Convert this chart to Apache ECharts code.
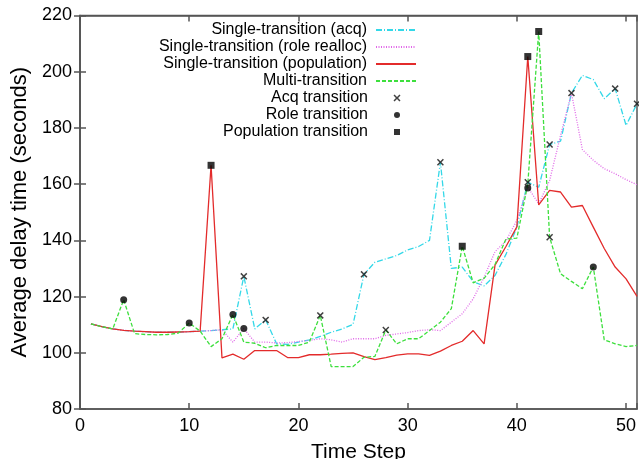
<!DOCTYPE html>
<html><head><meta charset="utf-8">
<script src="https://cdn.jsdelivr.net/npm/echarts@6/dist/echarts.min.js"></script>
<style>html,body{margin:0;padding:0;background:#fff}#c{width:639px;height:459px}</style>
</head><body><div id="c"></div>
<script>
const timeSteps = [1,2,3,4,5,6,7,8,9,10,11,12,13,14,15,16,17,18,19,20,21,22,23,24,25,26,27,28,29,30,31,32,33,34,35,36,37,38,39,40,41,42,43,44,45,46,47,48,49,50,51];

const acqValues = [110.3,109.3,108.5,108.0,107.7,107.5,107.3,107.3,107.4,107.5,107.7,
  107.9,108.2,108.5,127.2,108.5,111.7,103.2,103.0,103.8,104.6,105.8,107.3,108.5,110.1,
  127.9,132.2,133.4,134.6,136.6,137.8,140.0,167.8,130.0,130.5,125.3,123.8,127.5,135.0,144.7,
  160.7,158.9,174.1,175.3,192.4,198.7,197.2,190.4,194.0,180.9,188.6];

const roleValues = [110.3,109.3,108.5,108.0,107.7,107.5,107.3,107.3,107.4,107.5,107.7,
  107.9,108.2,103.8,108.6,103.8,103.8,103.5,103.6,104.0,104.4,105.0,104.6,103.8,105.0,
  105.0,105.0,106.2,106.7,107.2,107.9,108.2,107.9,110.9,113.9,119.2,126.9,136.0,139.8,147.1,
  158.9,153.0,161.3,177.3,192.4,172.3,168.5,165.5,163.7,161.6,159.8];

const popValues = [110.3,109.3,108.5,108.0,107.7,107.5,107.3,107.3,107.4,107.5,107.7,
  166.7,98.2,99.5,97.7,100.8,100.8,100.8,98.3,98.3,99.3,99.3,99.5,99.8,100.0,
  98.6,97.6,98.3,99.2,99.6,99.6,99.1,100.6,102.6,104.1,107.9,103.2,131.2,137.8,144.8,
  205.4,152.6,157.8,157.2,151.8,152.4,144.7,137.1,130.5,126.3,120.1];

const multiValues = [110.3,109.3,108.5,118.9,106.8,106.5,106.4,106.5,107.0,110.6,107.7,
  102.2,105.0,113.6,103.8,103.4,101.8,102.6,102.6,102.6,103.8,113.3,95.1,95.1,95.1,
  98.4,98.7,108.1,103.2,105.0,105.0,107.9,110.9,115.7,137.9,124.9,126.5,131.4,140.5,140.8,
  160.0,214.3,141.1,128.1,125.4,122.8,130.5,104.6,103.2,102.2,102.6];

const acqMarkX = [15,17,22,26,28,33,41,43,43,45,49,51];
const acqMarkY = [127.2,111.7,113.3,127.9,108.1,167.8,160.7,174.1,141.1,192.4,194.0,188.6];
const roleMarkX = [4,10,14,15,41,47];
const roleMarkY = [118.9,110.6,113.6,108.6,158.6,130.5];
const popMarkX = [12,35,41,42];
const popMarkY = [166.7,137.9,205.4,214.3];

const xTicks = [0,10,20,30,40,50];
const yTicks = [80,100,120,140,160,180,200,220];

const names = ['Single-transition (acq)','Single-transition (role realloc)','Single-transition (population)','Multi-transition','Acq transition','Role transition','Population transition'];

const pair = (xs, ys) => xs.map((x, i) => [x, ys[i]]);
const FONT = 'Liberation Sans';
const X_SYM = 'path://M0,1.5L1.5,0L5,3.5L8.5,0L10,1.5L6.5,5L10,8.5L8.5,10L5,6.5L1.5,10L0,8.5L3.5,5Z';
const SQ_SYM = 'path://M0,0L10,0L10,10L0,10Z';

const chart = echarts.init(document.getElementById('c'), null, {renderer: 'canvas'});

const rowCenters = [30, 47, 64, 81, 98, 115, 132];
const legendText = (pad) => ({fontSize: 16, lineHeight: 16, color: '#000', fontFamily: FONT, padding: [0, pad, 0, 0]});
function lineLegend(i) {
  return {
    data: [names[i]], orient: 'vertical', align: 'right', right: 222, top: rowCenters[i] - 8,
    itemWidth: 40, itemHeight: 2, padding: 0, itemGap: 0, selectedMode: false,
    itemStyle: {opacity: 0},
    textStyle: legendText(4)
  };
}
function markLegend(i, size) {
  return {
    data: [names[i]], orient: 'vertical', align: 'right', right: 639 - 397 - size / 2, top: rowCenters[i] - 8,
    itemWidth: size, itemHeight: size, padding: 0, itemGap: 0, selectedMode: false,
    textStyle: legendText(397 - size / 2 - 5 - 368)
  };
}

const axisLineStyle = {color: '#555', width: 1.5};
const lineSeries = (name, vals, color, type, z) => ({
  name, type: 'line', data: pair(timeSteps, vals), symbol: 'none', z,
  lineStyle: {color, width: 1.3, type}, itemStyle: {color}, animation: false
});

chart.setOption({
  animation: false,
  backgroundColor: '#fff',
  grid: {left: 80, right: 2, top: 15.5, bottom: 50, show: true, borderColor: '#555', borderWidth: 1.5,
    containLabel: false, outerBoundsMode: 'none'},
  legend: [lineLegend(0), lineLegend(1), lineLegend(2), lineLegend(3), markLegend(4, 7), markLegend(5, 6), markLegend(6, 6)],
  xAxis: [{
    type: 'value', min: xTicks[0], max: 51, interval: 10,
    name: 'Time Step', nameLocation: 'middle', nameGap: 33,
    nameTextStyle: {fontSize: 21, color: '#000', fontFamily: FONT},
    axisLine: {lineStyle: axisLineStyle},
    axisTick: {inside: true, length: 6, lineStyle: axisLineStyle},
    axisLabel: {fontSize: 18, color: '#000', fontFamily: FONT, margin: 8,
      formatter: v => (xTicks.indexOf(v) >= 0 ? String(v) : '')},
    splitLine: {show: false}
  }, {
    type: 'value', position: 'top', min: xTicks[0], max: 51, interval: 10,
    axisLine: {lineStyle: axisLineStyle},
    axisTick: {inside: true, length: 6, lineStyle: axisLineStyle},
    axisLabel: {show: false}, splitLine: {show: false}
  }],
  yAxis: [{
    type: 'value', min: yTicks[0], max: yTicks[yTicks.length - 1], interval: 20,
    name: 'Average delay time (seconds)', nameLocation: 'middle', nameGap: 48,
    nameTextStyle: {fontSize: 22, color: '#000', fontFamily: FONT},
    axisLine: {show: true, lineStyle: axisLineStyle},
    axisTick: {show: true, inside: true, length: 6, lineStyle: axisLineStyle},
    axisLabel: {fontSize: 18, color: '#000', fontFamily: FONT, margin: 8},
    splitLine: {show: false}
  }, {
    type: 'value', position: 'right', min: yTicks[0], max: yTicks[yTicks.length - 1], interval: 20,
    axisLine: {show: true, lineStyle: axisLineStyle},
    axisTick: {show: true, inside: true, length: 6, lineStyle: axisLineStyle},
    axisLabel: {show: false}, splitLine: {show: false}
  }],
  series: [
    lineSeries(names[0], acqValues, '#33d8e8', [6, 2, 1, 2], 2),
    lineSeries(names[1], roleValues, '#e066e8', [1, 1.5], 3),
    lineSeries(names[2], popValues, '#e32b2b', 'solid', 4),
    lineSeries(names[3], multiValues, '#3ddf3d', [4, 2], 5),
    {name: names[4], type: 'scatter', data: pair(acqMarkX, acqMarkY), symbol: X_SYM, symbolSize: 7,
      itemStyle: {color: '#111'}, z: 10, clip: false, animation: false},
    {name: names[5], type: 'scatter', data: pair(roleMarkX, roleMarkY), symbol: 'circle', symbolSize: 7,
      itemStyle: {color: '#000'}, z: 10, clip: false, animation: false},
    {name: names[6], type: 'scatter', data: pair(popMarkX, popMarkY), symbol: SQ_SYM, symbolSize: 7,
      itemStyle: {color: '#000'}, z: 10, clip: false, animation: false}
  ]
});
</script>
</body></html>
